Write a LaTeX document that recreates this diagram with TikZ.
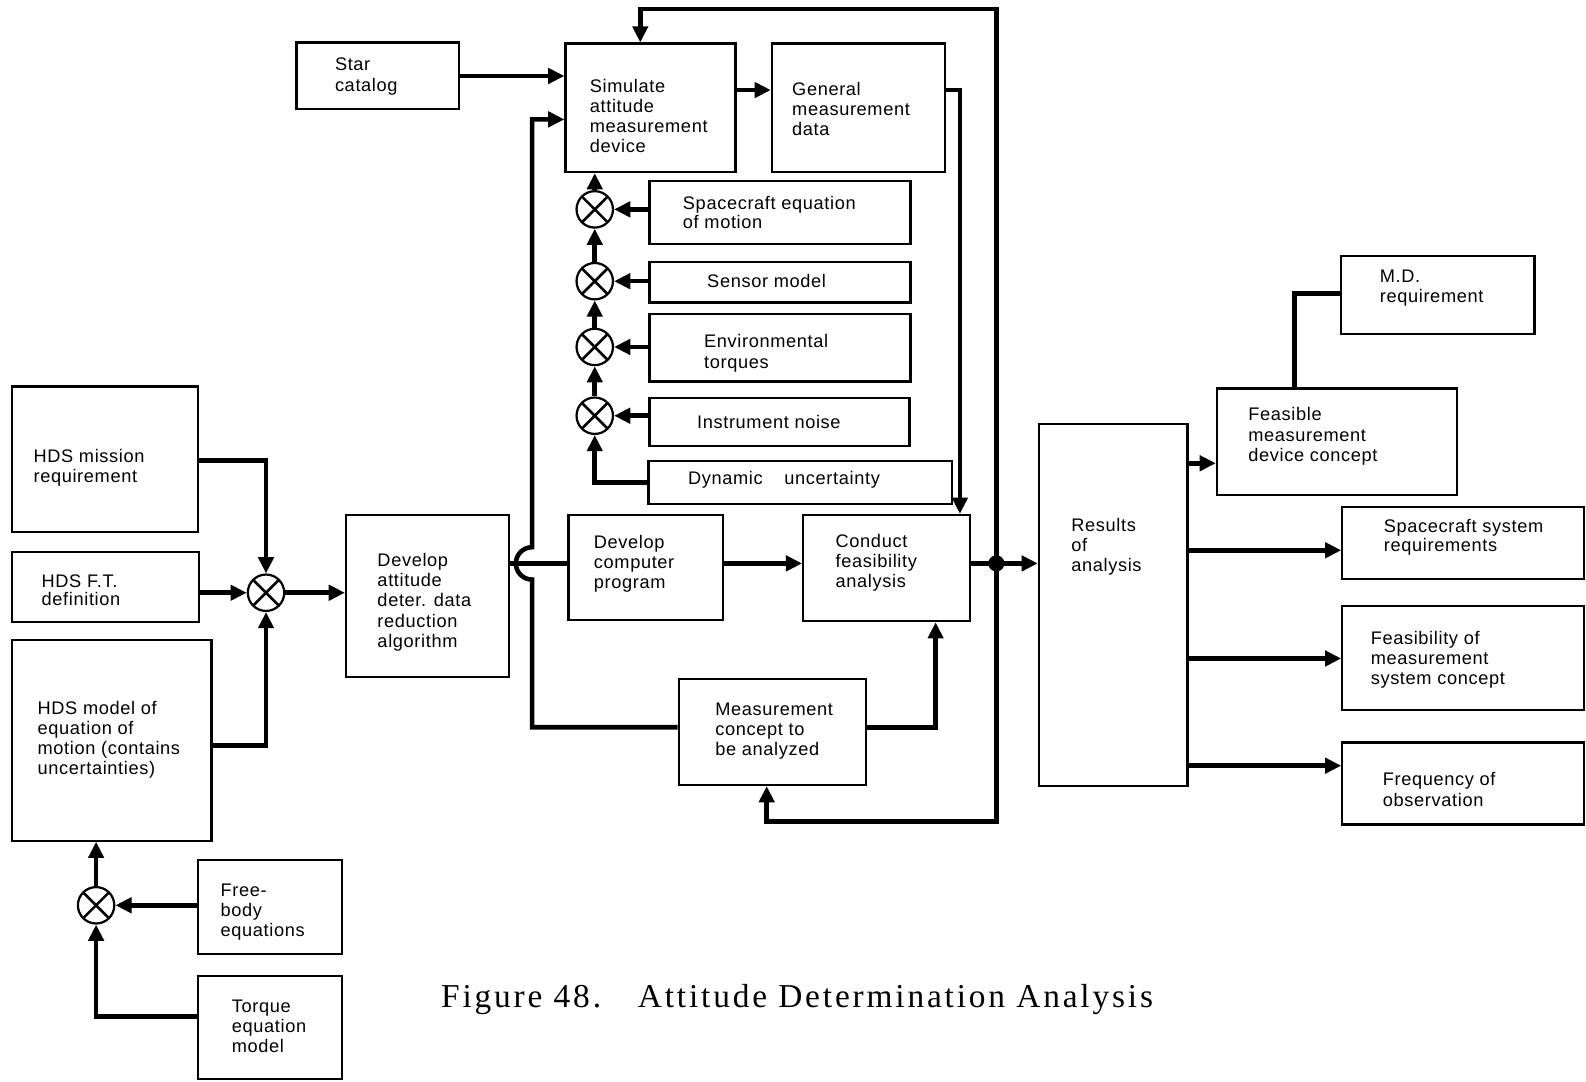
\documentclass[tikz,border=0pt]{standalone}
\usepackage{fontspec}
\usepackage{graphicx}
\setmainfont{Liberation Sans}[LetterSpace=3.5]
\newfontfamily\capfont{Liberation Serif}[LetterSpace=8.5]
\usetikzlibrary{arrows.meta}

% block with its corners given as (x1,y1) top left and (x2,y2) bottom right
\newcommand{\blk}[5]{%
  \node[box, minimum width={(#4-#2)*1pt}, minimum height={(#5-#3)*1pt}] (#1) at (#2,#3) {};}
% left-aligned label, (x,y) is the baseline of its first line
\newcommand{\tx}[4]{%
  \node[txt] (#1) at (#2,#3) {\begin{tabular}[t]{@{}l@{}}#4\end{tabular}};}

\begin{document}
\begin{tikzpicture}[x=1pt,y=-1pt,
  box/.style={draw, line width=2.2pt, inner sep=0pt, anchor=north west},
  txt/.style={anchor=base west, inner sep=0pt, font=\fontsize{18}{20}\selectfont},
  link/.style={line width=4.5pt},
  flow/.style={link, -{Triangle[length=16pt,width=15pt]}},
  sum/.style={circle, draw, line width=2.2pt, minimum size=36pt, inner sep=0pt, fill=white,
    path picture={\draw[line width=2.6pt]
      (path picture bounding box.south west) -- (path picture bounding box.north east)
      (path picture bounding box.north west) -- (path picture bounding box.south east);}},
]
\useasboundingbox (0,0) rectangle (1568,1069);

% ---- blocks ----
\blk{star}{292}{41}{453}{107}
\blk{sim}{558}{42}{726}{169}
\blk{gen}{762}{42}{933}{169}
\blk{sce}{641}{178}{899}{240}
\blk{sen}{641}{258}{899}{298}
\blk{env}{641}{309}{899}{376}
\blk{ins}{641}{392}{898}{440}
\blk{dyn}{640}{455}{940}{497}
\blk{hms}{11}{381}{195}{525}
\blk{hft}{11}{545}{196}{614}
\blk{hmo}{11}{632}{208}{830}
\blk{dad}{341}{508}{502}{668}
\blk{dcp}{561}{508}{714}{612}
\blk{cfa}{793}{508}{958}{613}
\blk{mca}{670}{670}{855}{775}
\blk{res}{1026}{418}{1173}{776}
\blk{fmd}{1202}{383}{1439}{488}
\blk{mdr}{1325}{252}{1516}{329}
\blk{ssr}{1326}{500}{1565}{571}
\blk{fms}{1326}{598}{1565}{701}
\blk{fob}{1326}{733}{1565}{814}
\blk{fbe}{195}{849}{337}{942}
\blk{teq}{195}{964}{337}{1066}

% ---- labels ----
\tx{tstar}{331}{70}{Star\\catalog}
\tx{tsim}{583}{91}{Simulate\\attitude\\measurement\\device}
\tx{tgen}{783}{94}{General\\measurement\\data}
\tx{tsce}{675}{207}{Spacecraft equation\\[-1pt]of motion}
\tx{tsen}{699}{284}{Sensor model}
\tx{tenv}{696}{344}{Environmental\\torques}
\tx{tins}{689}{424}{Instrument noise}
\tx{tdyn}{680}{479}{Dynamic\hspace{1.2em}uncertainty}
\tx{thms}{33}{457}{HDS mission\\requirement}
\tx{thft}{41}{581}{HDS F.T.\\[-2pt]definition}
\tx{thmo}{37}{706}{HDS model of\\equation of\\motion (contains\\uncertainties)}
\tx{tdad}{373}{560}{Develop\\attitude\\deter. data\\reduction\\algorithm}
\tx{tdcp}{587}{542}{Develop\\computer\\program}
\tx{tcfa}{826}{541}{Conduct\\feasibility\\analysis}
\tx{tmca}{707}{707}{Measurement\\concept to\\be analyzed}
\tx{tres}{1059}{525}{Results\\of\\analysis}
\tx{tfmd}{1234}{416}{Feasible\\measurement\\device concept}
\tx{tmdr}{1364}{279}{M.D.\\requirement}
\tx{tssr}{1368}{526}{Spacecraft system\\[-1pt]requirements}
\tx{tfms}{1355}{637}{Feasibility of\\measurement\\system concept}
\tx{tfob}{1367}{777}{Frequency of\\observation}
\tx{tfbe}{218}{886}{Free-\\body\\equations}
\tx{tteq}{229}{1001}{Torque\\equation\\model}

\node[anchor=base west, inner sep=0pt, font=\capfont\fontsize{33}{40}\selectfont] (cap)
  at (436,996) {Figure 48.\hspace{1.1em}Attitude Determination Analysis};

% ---- summing junctions ----
\node[sum] (s1) at (588,207) {};
\node[sum] (s2) at (588,278) {};
\node[sum] (s3) at (588,343) {};
\node[sum] (s4) at (588,411) {};
\node[sum] (sj) at (263,586) {};
\node[sum] (sk) at (95,895) {};

% ---- elbow points ----
\coordinate (g1) at (949,89);
\coordinate (mid) at (0,557);
\coordinate (fb) at (985,557);
\coordinate (lt) at (985,9);
\coordinate (lt2) at (633,9);
\coordinate (lb) at (985,812);
\coordinate (lb2) at (758,812);
\coordinate (m1) at (925,719);
\coordinate (h1) at (526,719);
\coordinate (hop) at (526,573);
\coordinate (h2) at (526,118);
\coordinate (e1) at (263,455);
\coordinate (e2) at (263,737);
\coordinate (e3) at (95,1005);
\coordinate (md) at (1280,290);
\coordinate (r1) at (0,458);
\coordinate (r2) at (0,544);
\coordinate (r3) at (0,651);
\coordinate (r4) at (0,757);

% ---- simulation chain ----
\draw[flow] (star.east) -- (star.east -| sim.west);
\draw[flow] (sim.east |- g1) -- (gen.west |- g1);
\draw[flow] (gen.east |- g1) -- (g1) -- (g1 |- cfa.north);
\draw[flow] (s1.north) -- (s1.north |- sim.south);
\draw[flow] (s2.north) -- (s1.south);
\draw[flow] (s3.north) -- (s2.south);
\draw[flow] (s4.north) -- (s3.south);
\draw[flow] (s1.east -| sce.west) -- (s1.east);
\draw[flow] (s2.east -| sen.west) -- (s2.east);
\draw[flow] (s3.east -| env.west) -- (s3.east);
\draw[flow] (s4.east -| ins.west) -- (s4.east);
\draw[flow] (dyn.west) -- (dyn.west -| s4.south) -- (s4.south);

% ---- left inputs ----
\draw[flow] (hms.east |- e1) -- (e1) -- (sj.north);
\draw[flow] (hft.east |- sj.west) -- (sj.west);
\draw[flow] (hmo.east |- e2) -- (e2) -- (sj.south);
\draw[flow] (sj.east) -- (sj.east -| dad.west);
\draw[flow] (fbe.west |- sk.east) -- (sk.east);
\draw[flow] (teq.west |- e3) -- (e3) -- (sk.south);
\draw[flow] (sk.north) -- (sk.north |- hmo.south);

% ---- analysis row ----
\draw[link] (dad.east |- mid) -- (dcp.west |- mid);
\draw[flow] (dcp.east |- mid) -- (cfa.west |- mid);
\draw[link] (cfa.east |- fb) -- (fb);
\draw[flow] (fb) -- (fb -| res.west);
\draw[flow] (fb) -- (lt) -- (lt2) -- (lt2 |- sim.north);
\draw[flow] (fb) -- (lb) -- (lb2) -- (lb2 |- mca.south);
\fill (fb) circle[radius=8pt];
\draw[flow] (mca.east |- m1) -- (m1) -- (m1 |- cfa.south);
\draw[flow] (mca.west |- h1) -- (h1) -- (hop)
  arc[start angle=270, end angle=90, radius=16pt] -- (h2) -- (h2 -| sim.west);

% ---- outputs ----
\draw[flow] (res.east |- r1) -- (fmd.west |- r1);
\draw[flow] (res.east |- r2) -- (ssr.west |- r2);
\draw[flow] (res.east |- r3) -- (fms.west |- r3);
\draw[flow] (res.east |- r4) -- (fob.west |- r4);
\draw[link] (mdr.west |- md) -- (md) -- (md |- fmd.north);
\end{tikzpicture}
\end{document}
